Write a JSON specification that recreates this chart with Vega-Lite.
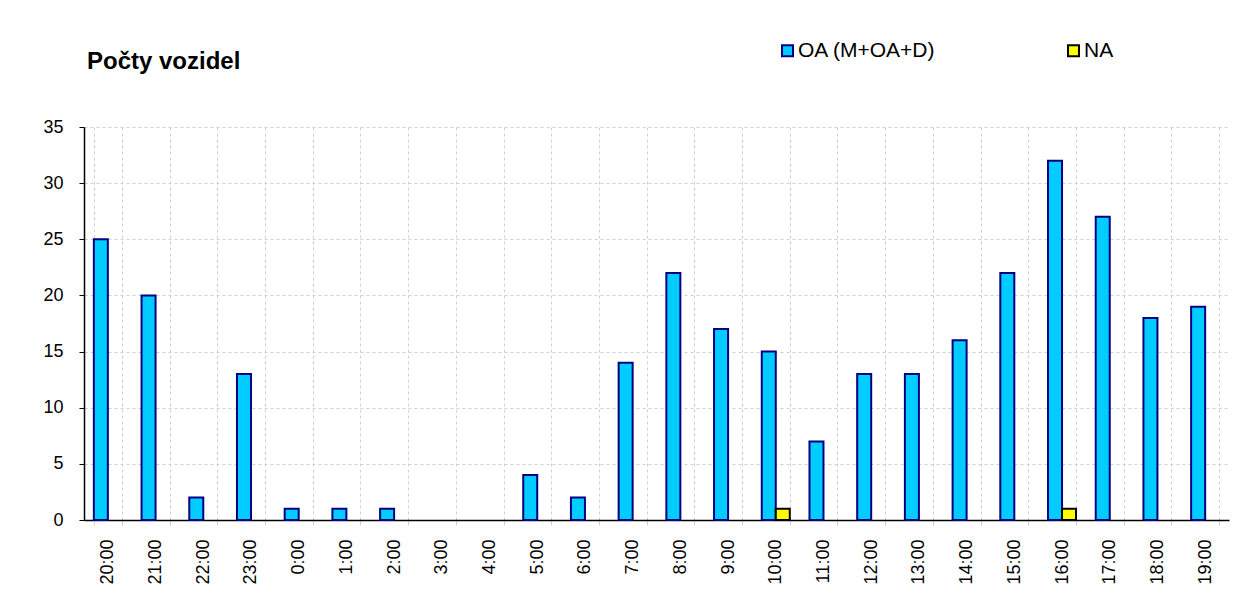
{
  "$schema": "https://vega.github.io/schema/vega-lite/v6.json",
  "width": 1145,
  "height": 393,
  "autosize": "none",
  "padding": {"left": 84, "top": 127, "right": 8, "bottom": 82},
  "background": "white",
  "config": {"view": {"stroke": null}, "font": "Liberation Sans"},
  "title": {
    "text": "Počty vozidel",
    "anchor": "start",
    "frame": "group",
    "fontSize": 24,
    "font": "Liberation Sans",
    "fontWeight": "bold",
    "color": "black",
    "baseline": "alphabetic",
    "offset": 0,
    "dy": 53,
    "dx": 3
  },
  "data": {
    "values": [
      {"hour": "20:00", "series": "OA (M+OA+D)", "count": 25},
      {"hour": "21:00", "series": "OA (M+OA+D)", "count": 20},
      {"hour": "22:00", "series": "OA (M+OA+D)", "count": 2},
      {"hour": "23:00", "series": "OA (M+OA+D)", "count": 13},
      {"hour": "0:00", "series": "OA (M+OA+D)", "count": 1},
      {"hour": "1:00", "series": "OA (M+OA+D)", "count": 1},
      {"hour": "2:00", "series": "OA (M+OA+D)", "count": 1},
      {"hour": "3:00", "series": "OA (M+OA+D)", "count": 0},
      {"hour": "4:00", "series": "OA (M+OA+D)", "count": 0},
      {"hour": "5:00", "series": "OA (M+OA+D)", "count": 4},
      {"hour": "6:00", "series": "OA (M+OA+D)", "count": 2},
      {"hour": "7:00", "series": "OA (M+OA+D)", "count": 14},
      {"hour": "8:00", "series": "OA (M+OA+D)", "count": 22},
      {"hour": "9:00", "series": "OA (M+OA+D)", "count": 17},
      {"hour": "10:00", "series": "OA (M+OA+D)", "count": 15},
      {"hour": "11:00", "series": "OA (M+OA+D)", "count": 7},
      {"hour": "12:00", "series": "OA (M+OA+D)", "count": 13},
      {"hour": "13:00", "series": "OA (M+OA+D)", "count": 13},
      {"hour": "14:00", "series": "OA (M+OA+D)", "count": 16},
      {"hour": "15:00", "series": "OA (M+OA+D)", "count": 22},
      {"hour": "16:00", "series": "OA (M+OA+D)", "count": 32},
      {"hour": "17:00", "series": "OA (M+OA+D)", "count": 27},
      {"hour": "18:00", "series": "OA (M+OA+D)", "count": 18},
      {"hour": "19:00", "series": "OA (M+OA+D)", "count": 19},
      {"hour": "20:00", "series": "NA", "count": 0},
      {"hour": "21:00", "series": "NA", "count": 0},
      {"hour": "22:00", "series": "NA", "count": 0},
      {"hour": "23:00", "series": "NA", "count": 0},
      {"hour": "0:00", "series": "NA", "count": 0},
      {"hour": "1:00", "series": "NA", "count": 0},
      {"hour": "2:00", "series": "NA", "count": 0},
      {"hour": "3:00", "series": "NA", "count": 0},
      {"hour": "4:00", "series": "NA", "count": 0},
      {"hour": "5:00", "series": "NA", "count": 0},
      {"hour": "6:00", "series": "NA", "count": 0},
      {"hour": "7:00", "series": "NA", "count": 0},
      {"hour": "8:00", "series": "NA", "count": 0},
      {"hour": "9:00", "series": "NA", "count": 0},
      {"hour": "10:00", "series": "NA", "count": 1},
      {"hour": "11:00", "series": "NA", "count": 0},
      {"hour": "12:00", "series": "NA", "count": 0},
      {"hour": "13:00", "series": "NA", "count": 0},
      {"hour": "14:00", "series": "NA", "count": 0},
      {"hour": "15:00", "series": "NA", "count": 0},
      {"hour": "16:00", "series": "NA", "count": 1},
      {"hour": "17:00", "series": "NA", "count": 0},
      {"hour": "18:00", "series": "NA", "count": 0},
      {"hour": "19:00", "series": "NA", "count": 0}
    ]
  },
  "transform": [{"filter": "datum.count > 0"}],
  "mark": {"type": "bar", "strokeWidth": 2},
  "encoding": {
    "x": {
      "field": "hour",
      "type": "nominal",
      "sort": ["20:00","21:00","22:00","23:00","0:00","1:00","2:00","3:00","4:00","5:00","6:00","7:00","8:00","9:00","10:00","11:00","12:00","13:00","14:00","15:00","16:00","17:00","18:00","19:00"],
      "scale": {
        "domain": ["20:00","21:00","22:00","23:00","0:00","1:00","2:00","3:00","4:00","5:00","6:00","7:00","8:00","9:00","10:00","11:00","12:00","13:00","14:00","15:00","16:00","17:00","18:00","19:00"],
        "paddingInner": 0.413,
        "paddingOuter": 0.2065
      },
      "axis": {
        "title": null,
        "tickBand": "extent",
        "grid": true,
        "gridColor": "#d0d0d0",
        "gridDash": [3, 3],
        "gridWidth": 1,
        "domainColor": "black",
        "domainWidth": 1.5,
        "tickColor": "#d0d0d0",
        "tickSize": 5,
        "labelAngle": 270,
        "labelFontSize": 18,
        "labelColor": "black",
        "labelPadding": 14,
        "labelFont": "Liberation Sans"
      }
    },
    "xOffset": {
      "field": "series",
      "type": "nominal",
      "scale": {"domain": ["OA (M+OA+D)", "NA"], "paddingInner": 0, "paddingOuter": 0}
    },
    "y": {
      "field": "count",
      "type": "quantitative",
      "scale": {"domain": [0, 35]},
      "axis": {
        "title": null,
        "values": [0, 5, 10, 15, 20, 25, 30, 35],
        "grid": true,
        "gridColor": "#d0d0d0",
        "gridDash": [3, 3],
        "domainColor": "black",
        "domainWidth": 1.5,
        "tickColor": "black",
        "tickSize": 5,
        "labelFontSize": 18,
        "labelColor": "black",
        "labelPadding": 16,
        "labelFont": "Liberation Sans"
      }
    },
    "color": {
      "field": "series",
      "type": "nominal",
      "scale": {"domain": ["OA (M+OA+D)", "NA"], "range": ["#00ccff", "#ffff00"]},
      "legend": {
        "title": null,
        "orient": "none",
        "direction": "horizontal",
        "legendX": 693,
        "legendY": -87,
        "labelFontSize": 21,
        "labelColor": "black",
        "labelFont": "Liberation Sans",
        "labelOffset": 0,
        "columnPadding": 127,
        "symbolType": "square",
        "symbolSize": 121,
        "symbolStrokeWidth": 2
      }
    },
    "stroke": {
      "field": "series",
      "type": "nominal",
      "scale": {"domain": ["OA (M+OA+D)", "NA"], "range": ["#000080", "#000000"]}
    }
  }
}
